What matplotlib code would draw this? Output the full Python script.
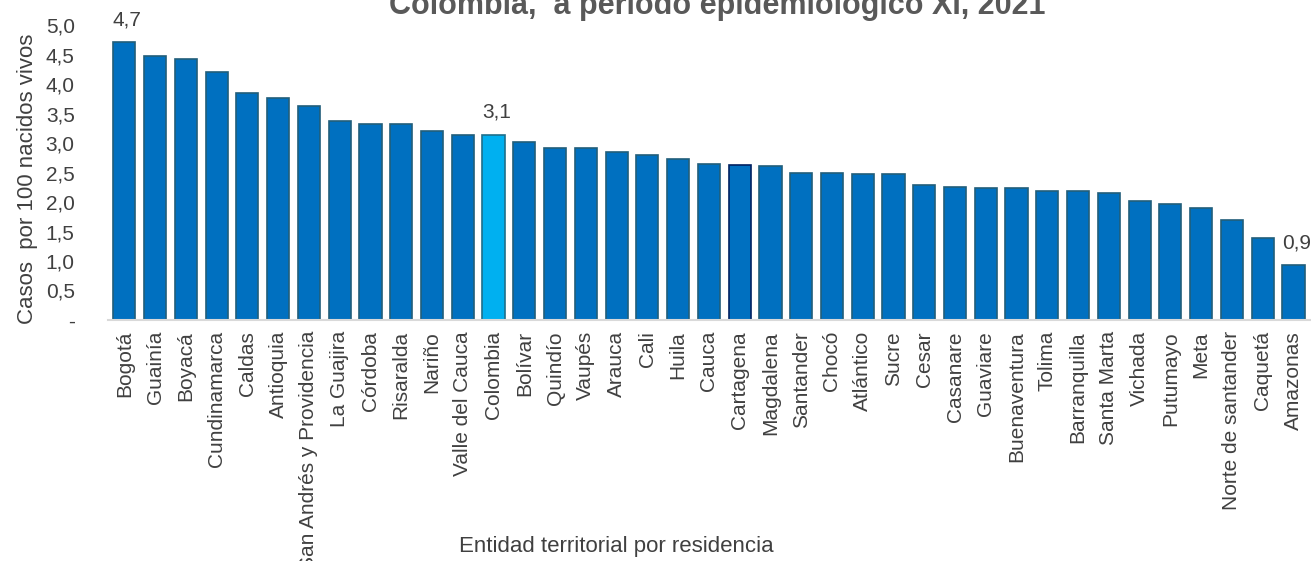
import matplotlib
matplotlib.use("Agg")
import matplotlib.pyplot as plt
from matplotlib import font_manager

entidades = ["Bogotá", "Guainía", "Boyacá", "Cundinamarca", "Caldas", "Antioquia",
             "San Andrés y Providencia", "La Guajira", "Córdoba", "Risaralda", "Nariño",
             "Valle del Cauca", "Colombia", "Bolívar", "Quindío", "Vaupés", "Arauca",
             "Cali", "Huila", "Cauca", "Cartagena", "Magdalena", "Santander", "Chocó",
             "Atlántico", "Sucre", "Cesar", "Casanare", "Guaviare", "Buenaventura",
             "Tolima", "Barranquilla", "Santa Marta", "Vichada", "Putumayo", "Meta",
             "Norte de santander", "Caquetá", "Amazonas"]
tasas = [4.71, 4.48, 4.42, 4.20, 3.84, 3.77, 3.62, 3.37, 3.32, 3.32, 3.21, 3.14, 3.14,
         3.02, 2.92, 2.92, 2.85, 2.79, 2.73, 2.65, 2.63, 2.61, 2.50, 2.50, 2.48, 2.47,
         2.29, 2.25, 2.24, 2.23, 2.18, 2.18, 2.15, 2.02, 1.97, 1.89, 1.70, 1.39, 0.93]
etiquetas = {"Bogotá": "4,7", "Colombia": "3,1", "Amazonas": "0,9"}

yticks = [0, 0.5, 1.0, 1.5, 2.0, 2.5, 3.0, 3.5, 4.0, 4.5, 5.0]
ytick_labels = ["-", "0,5", "1,0", "1,5", "2,0", "2,5", "3,0", "3,5", "4,0", "4,5", "5,0"]

names = {f.name for f in font_manager.fontManager.ttflist}
fam = "Liberation Sans Narrow" if "Liberation Sans Narrow" in names else "Liberation Sans"
plt.rcParams["font.family"] = [fam, "DejaVu Sans"]

fig = plt.figure(figsize=(13.11, 5.61), dpi=100)
ax = fig.add_axes([0.0824, 0.4296, 0.9176, 0.5258])

colores = []
bordes = []
for e in entidades:
    if e == "Colombia":
        colores.append("#00B0F0")
        bordes.append("#1F6F8B")
    elif e == "Cartagena":
        colores.append("#0070C0")
        bordes.append("#002060")
    else:
        colores.append("#0070C0")
        bordes.append("#215E7A")

x = range(len(entidades))
ax.bar(x, tasas, width=0.72, color=colores, edgecolor=bordes, linewidth=1.2, zorder=2)

for i, (e, v) in enumerate(zip(entidades, tasas)):
    if e in etiquetas:
        ax.text(i + 0.1, v + 0.22, etiquetas[e], ha="center", va="bottom",
                fontsize=15, color="#404040", clip_on=False)

ax.set_xlim(-0.53, len(entidades) - 0.43)
ax.set_ylim(0, 5)
ax.set_yticks(yticks)
ax.set_yticklabels(ytick_labels, fontsize=15, color="#404040")
ax.set_xticks(list(x))
ax.set_xticklabels(entidades, rotation=90, fontsize=15, color="#404040")
ax.tick_params(axis="both", length=0, pad=8)
ax.tick_params(axis="y", pad=24)
for s in ["top", "right", "left"]:
    ax.spines[s].set_visible(False)
ax.spines["bottom"].set_color("#D9D9D9")
ax.spines["bottom"].set_linewidth(1.5)

ax.set_ylabel("Casos  por 100 nacidos vivos", fontsize=16, color="#404040")
ax.yaxis.set_label_coords(-0.058, 0.48)
fig.text(0.47, 0.008, "Entidad territorial por residencia", ha="center", va="bottom",
         fontsize=16, color="#404040")
fig.text(0.547, 1 - 14 / 561, "Colombia,  a periodo epidemiológico XI, 2021",
         ha="center", va="baseline", fontsize=22, fontweight="bold", color="#595959")

fig.savefig("out.png", dpi=100)
